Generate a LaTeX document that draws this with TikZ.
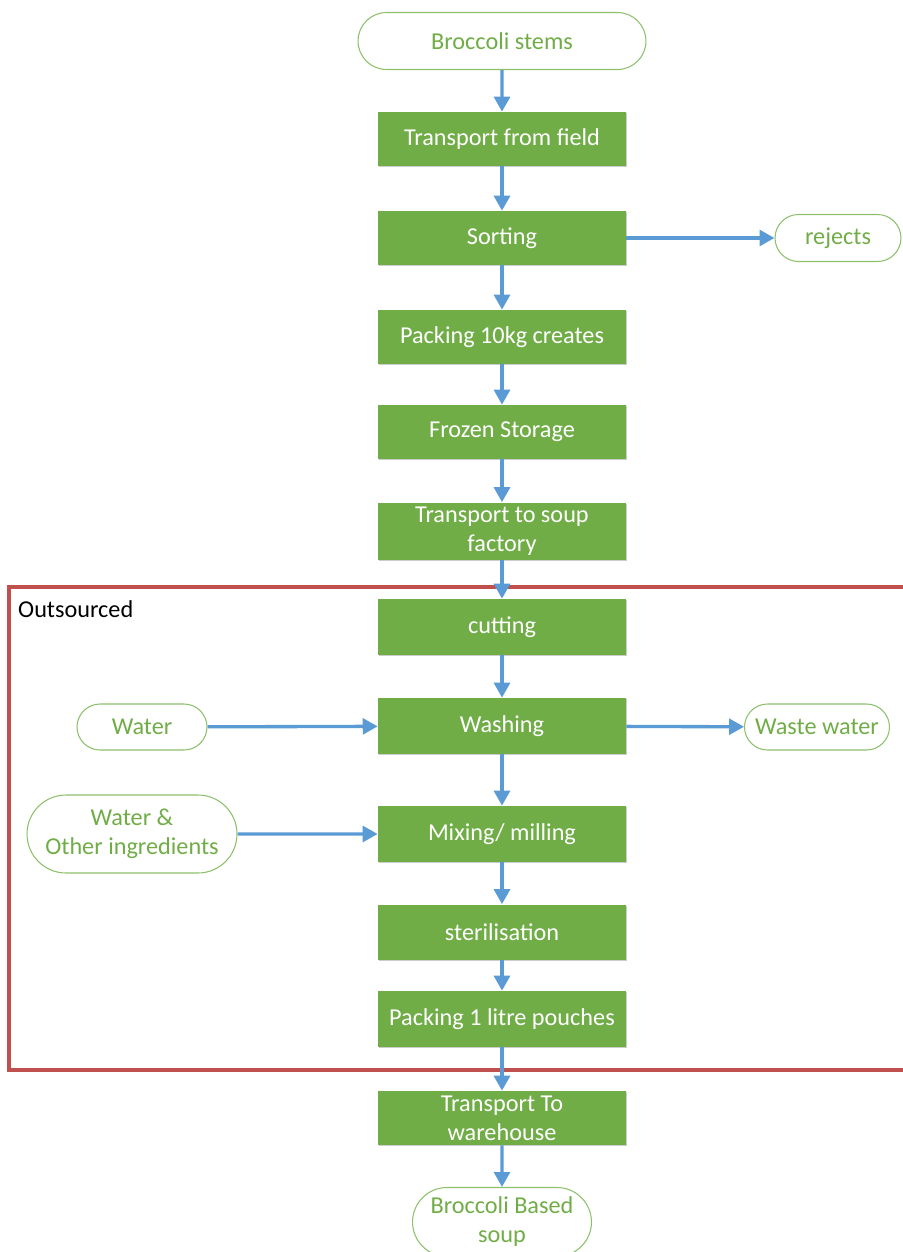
\documentclass[tikz,border=0pt]{standalone}
\usepackage{fontspec}
\setmainfont{Carlito}
\usetikzlibrary{arrows.meta,shapes.misc,shadows}
\definecolor{boxgreen}{HTML}{70AD47}
\definecolor{edgegreen}{HTML}{8CC06A}
\definecolor{flowblue}{HTML}{5B9BD5}
\definecolor{outred}{HTML}{C0504D}

\tikzset{
    process/.style={fill=boxgreen,text=white,minimum width=4.96cm,minimum height=1.08cm,
        align=center,inner sep=0pt,
        drop shadow={shadow xshift=0.7pt,shadow yshift=-0.7pt,opacity=0.2,fill=black}},
    term/.style={draw=edgegreen,rounded rectangle,text=boxgreen,align=center,inner sep=0pt,line width=0.6pt},
    flow/.style={draw=flowblue,line width=1.9pt,-{Triangle[length=8.5pt,width=9pt]}}
}

\begin{document}
\begin{tikzpicture}[x=0.02cm,y=-0.02cm,every node/.style={font=\fontsize{13.8}{16.5}\selectfont}]
    \useasboundingbox (0,0) rectangle (903,1252);
    \clip (0,0) rectangle (903,1252);

    % outsourced part
    \draw[outred,line width=2.1pt] (9,587) rectangle (930,1070);
    \node[anchor=west,text=black] (outlabel) at (12,609) {Outsourced};

    % main line
    \node[term,minimum width=5.76cm,minimum height=1.14cm] (stems) at (502,41) {Broccoli stems};
    \node[process] (field) at (502,139) {Transport from field};
    \node[process] (sorting) at (502,238) {Sorting};
    \node[process] (crates) at (502,337) {Packing 10kg creates};
    \node[process] (frozen) at (502,432) {Frozen Storage};
    \node[process,minimum height=1.14cm] (factory) at (502,531) {Transport to soup\\factory};
    \node[process,minimum height=1.12cm] (cutting) at (502,627) {cutting};
    \node[process,minimum height=1.12cm] (washing) at (502,726) {Washing};
    \node[process,minimum height=1.12cm] (mixing) at (502,834) {Mixing/ milling};
    \node[process,minimum height=1.1cm] (steril) at (502,932) {sterilisation};
    \node[process,minimum height=1.12cm] (pouches) at (502,1019) {Packing 1 litre pouches};
    \node[process,minimum height=1.08cm] (warehouse) at (502,1118) {Transport To\\warehouse};
    \node[term,minimum width=3.58cm,minimum height=1.38cm] (soup) at (502,1222) {Broccoli Based\\soup};

    % side inputs and outputs
    \node[term,minimum width=2.52cm,minimum height=0.94cm] (rejects) at (838,238) {rejects};
    \node[term,minimum width=2.6cm,minimum height=0.92cm] (water) at (142,727) {Water};
    \node[term,minimum width=2.9cm,minimum height=0.92cm] (waste) at (817,727) {Waste water};
    \node[term,minimum width=4.2cm,minimum height=1.56cm] (ingred) at (132,834) {Water \&\\Other ingredients};

    \draw[flow] (stems) -- (field);
    \draw[flow] (field) -- (sorting);
    \draw[flow] (sorting) -- (crates);
    \draw[flow] (crates) -- (frozen);
    \draw[flow] (frozen) -- (factory);
    \draw[flow] (factory) -- (cutting);
    \draw[flow] (cutting) -- (washing);
    \draw[flow] (washing) -- (mixing);
    \draw[flow] (mixing) -- (steril);
    \draw[flow] (steril) -- (pouches);
    \draw[flow] (pouches) -- (warehouse);
    \draw[flow] (warehouse) -- (soup);

    \draw[flow] (sorting) -- (rejects);
    \draw[flow] (water) -- (washing);
    \draw[flow] (washing) -- (waste);
    \draw[flow] (ingred) -- (mixing);
\end{tikzpicture}
\end{document}
